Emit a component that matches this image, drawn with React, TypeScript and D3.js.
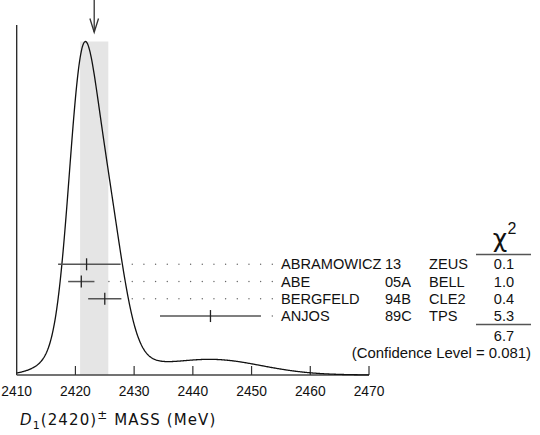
import React from "react";
import * as d3 from "d3";

const names = ["ABRAMOWICZ", "ABE", "BERGFELD", "ANJOS"];
const years = ["13", "05A", "94B", "89C"];
const experiments = ["ZEUS", "BELL", "CLE2", "TPS"];
const values = [2421.9, 2421.0, 2425.0, 2443.0];
const errMinus = [4.85, 2.24, 2.83, 8.6];
const errPlus = [5.8, 2.24, 2.83, 8.6];
const chi2 = ["0.1", "1.0", "0.4", "5.3"];
const chi2Total = "6.7";
const confidence = "(Confidence Level = 0.081)";
const average = 2423.2;
const averageErr = 2.4;
const xTicks = [2410, 2420, 2430, 2440, 2450, 2460, 2470];

const W = 540;
const H = 435;
const x = d3.scaleLinear().domain([2410, 2470]).range([16.7, 369]);
const baseY = 375;

function ideogram(m: number): number {
  let s = 0;
  for (let i = 0; i < values.length; i++) {
    const sAvg = (errMinus[i] + errPlus[i]) / 2;
    const sig = m < values[i] ? errMinus[i] : errPlus[i];
    const d = (m - values[i]) / sig;
    s += (1 / (sAvg * sAvg)) * Math.exp(-0.5 * d * d);
  }
  return s;
}

export default function App() {
  const samples = d3.range(2410, 2470.0001, 0.1);
  const pts: [number, number][] = samples.map((m) => [m, ideogram(m)]);
  const maxV = d3.max(pts, (p) => p[1]) as number;
  const y = d3.scaleLinear().domain([0, maxV]).range([baseY, 41.5]);
  const line = d3
    .line<[number, number]>()
    .x((p) => x(p[0]))
    .y((p) => y(p[1]))
    .curve(d3.curveLinear);

  const rowY = (i: number) => 264.3 + i * 17.25;
  const dotStep = 11.67;
  const dotEnd = 272.3;
  const font = "'Liberation Sans', Arial, Helvetica, sans-serif";
  const gray = "#555";
  const fs = 14.6;

  return (
    <svg width={W} height={H} style={{ position: "absolute", left: 0, top: 0, background: "#fff" }}>
      {/* band */}
      <rect
        x={x(average - averageErr)}
        y={41.5}
        width={x(average + averageErr) - x(average - averageErr)}
        height={baseY - 41.5}
        fill="#e5e5e5"
      />
      {/* arrow */}
      <g stroke="#333" strokeWidth={1.3} fill="none">
        <line x1={x(average)} y1={0} x2={x(average)} y2={32} />
        <polyline points={`${x(average) - 4.3},18.5 ${x(average)},32.3 ${x(average) + 4.3},18.5`} />
      </g>
      {/* axes */}
      <line x1={x(2410)} y1={25} x2={x(2410)} y2={baseY} stroke="#222" strokeWidth={1.3} />
      <line x1={x(2410)} y1={baseY} x2={x(2470)} y2={baseY} stroke="#444" strokeWidth={1.5} />
      {xTicks.slice(1).map((t) => (
        <line key={t} x1={x(t)} x2={x(t)} y1={baseY} y2={baseY - 9} stroke="#333" strokeWidth={1.2} />
      ))}
      {xTicks.map((t) => (
        <text key={"l" + t} x={x(t)} y={395.5} textAnchor="middle" fontFamily={font} fontSize={13.8} fill="#111">
          {t}
        </text>
      ))}
      {/* curve */}
      <path d={line(pts) || ""} fill="none" stroke="#111" strokeWidth={1.3} />
      {/* measurements */}
      {values.map((v, i) => {
        const yy = rowY(i);
        const x0 = x(v - errMinus[i]);
        const x1 = x(v + errPlus[i]);
        const dots: number[] = [];
        for (let k = 0; k < 40; k++) {
          const dx = dotEnd - k * dotStep;
          if (dx > x1 + 6) dots.push(dx);
        }
        return (
          <g key={i}>
            <line x1={x0} x2={x1} y1={yy} y2={yy} stroke={gray} strokeWidth={1.5} />
            <line x1={x(v)} x2={x(v)} y1={yy - 6} y2={yy + 6} stroke="#222" strokeWidth={1.3} />
            {dots.map((dx) => (
              <circle key={dx} cx={dx} cy={yy} r={0.7} fill="#666" />
            ))}
            <text x={281} y={yy + 5} fontFamily={font} fontSize={fs} fill="#111">
              {names[i]}
            </text>
            <text x={385} y={yy + 5} fontFamily={font} fontSize={fs} fill="#111">
              {years[i]}
            </text>
            <text x={429} y={yy + 5} fontFamily={font} fontSize={fs} fill="#111">
              {experiments[i]}
            </text>
            <text x={504} y={yy + 5} textAnchor="middle" fontFamily={font} fontSize={fs} fill="#111">
              {chi2[i]}
            </text>
          </g>
        );
      })}
      {/* chi2 header */}
      <text x={500} y={247} textAnchor="middle" fontFamily="'DejaVu Sans', sans-serif" fontSize={25} fill="#111">
        χ
      </text>
      <text x={512} y={234} textAnchor="middle" fontFamily={font} fontSize={16} fill="#111">
        2
      </text>
      <line x1={476} x2={531} y1={254.5} y2={254.5} stroke={gray} strokeWidth={1.3} />
      <line x1={476} x2={531} y1={324.5} y2={324.5} stroke={gray} strokeWidth={1.3} />
      <text x={504} y={341} textAnchor="middle" fontFamily={font} fontSize={fs} fill="#111">
        {chi2Total}
      </text>
      <text x={531} y={358} textAnchor="end" fontFamily={font} fontSize={14.9} fill="#111">
        {confidence}
      </text>
      {/* axis title */}
      <text x={20} y={425} fontFamily="'DejaVu Sans', sans-serif" fontSize={15} fill="#111" letterSpacing={1.1}>
        <tspan fontStyle="italic">D</tspan>
        <tspan fontSize={11} dy={4}>1</tspan>
        <tspan dy={-4}>(2420)</tspan>
        <tspan fontSize={12} dy={-6}>±</tspan>
        <tspan dy={6}> MASS (MeV)</tspan>
      </text>
    </svg>
  );
}
